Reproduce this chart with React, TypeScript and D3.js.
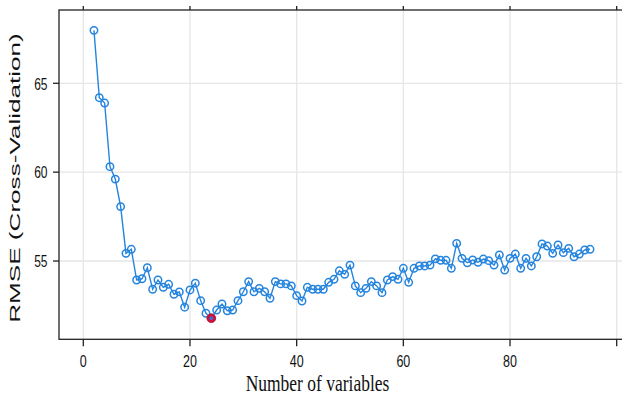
import React from "react";
import * as d3 from "d3";

const variables: number[] = d3.range(2, 96);
const rmse: number[] = [
  67.98, 64.19, 63.89, 60.31, 59.61, 58.06, 55.43, 55.66, 53.93, 54.0,
  54.62, 53.41, 53.93, 53.52, 53.69, 53.13, 53.26, 52.4, 53.37, 53.75,
  52.77, 52.06, 51.78, 52.24, 52.58, 52.2, 52.24, 52.77, 53.27, 53.84,
  53.27, 53.46, 53.27, 52.9, 53.84, 53.71, 53.71, 53.6, 53.05, 52.75,
  53.52, 53.41, 53.41, 53.41, 53.8, 53.97, 54.45, 54.25, 54.77, 53.6,
  53.22, 53.46, 53.84, 53.6, 53.22, 53.93, 54.12, 53.97, 54.59, 53.8,
  54.59, 54.72, 54.72, 54.77, 55.12, 55.04, 55.04, 54.59, 55.99, 55.15,
  54.9, 55.06, 54.93, 55.11, 55.02, 54.77, 55.34, 54.49, 55.15, 55.39,
  54.59, 55.15, 54.72, 55.24, 55.96, 55.84, 55.43, 55.9, 55.47, 55.71,
  55.24, 55.39, 55.62, 55.66,
];
const xTicks: number[] = [0, 20, 40, 60, 80, 100];
const yTicks: number[] = [55, 60, 65];
const xTitle = "Number of variables";
const yTitle = "RMSE (Cross-Validation)";

const W = 622;
const H = 397;
const BLUE = "#2584de";

export default function App() {
  const x = d3.scaleLinear().domain([0, 100]).range([83.3, 616.7]);
  const y = d3.scaleLinear().domain([55, 65]).range([261, 83.3]);
  const left = 59;
  const right = 624;
  const top = 10;
  const bottom = 339.3;

  const pts = variables.map((v, i) => ({ v, r: rmse[i] }));
  const line = d3
    .line<{ v: number; r: number }>()
    .x((d) => x(d.v))
    .y((d) => y(d.r));
  const minIdx = d3.minIndex(rmse);
  const best = pts[minIdx];

  return (
    <svg
      width={W}
      height={H}
      style={{ position: "absolute", left: 0, top: 0, background: "#fff" }}
    >
      {/* grid */}
      {xTicks.map((t) => (
        <line key={"gx" + t} x1={x(t)} x2={x(t)} y1={top} y2={bottom} stroke="#e6e6e6" strokeWidth={1.3} />
      ))}
      {yTicks.map((t) => (
        <line key={"gy" + t} x1={left} x2={right} y1={y(t)} y2={y(t)} stroke="#e6e6e6" strokeWidth={1.3} />
      ))}
      {/* line & points */}
      <path d={line(pts) || ""} fill="none" stroke={BLUE} strokeWidth={1.4} />
      {pts.map((d, i) =>
        i === minIdx ? null : (
          <circle key={i} cx={x(d.v)} cy={y(d.r)} r={3.7} fill="none" stroke={BLUE} strokeWidth={1.5} />
        )
      )}
      <circle cx={x(best.v)} cy={y(best.r)} r={4.4} fill="#d0103a" stroke="#b00d30" strokeWidth={0.8} />
      <circle cx={x(best.v)} cy={y(best.r)} r={1.9} fill="#3a6fd0" />
      {/* frame */}
      <rect x={left} y={top} width={right - left} height={bottom - top} fill="none" stroke="#222" strokeWidth={1.3} />
      {/* x ticks */}
      {xTicks.map((t) => (
        <g key={"tx" + t}>
          <line x1={x(t)} x2={x(t)} y1={bottom} y2={bottom + 7} stroke="#222" strokeWidth={1.3} />
          <line x1={x(t)} x2={x(t)} y1={top} y2={top - 4} stroke="#222" strokeWidth={1.3} />
          {t <= 80 ? (
            <text
              transform={`translate(${x(t)},367.3) scale(1,1.25)`}
              textAnchor="middle"
              fontFamily="Liberation Sans, Arial, sans-serif"
              fontSize={12.5}
              fill="#111"
            >
              {t}
            </text>
          ) : null}
        </g>
      ))}
      {/* y ticks */}
      {yTicks.map((t) => (
        <g key={"ty" + t}>
          <line x1={left - 6} x2={left} y1={y(t)} y2={y(t)} stroke="#222" strokeWidth={1.3} />
          <text
            transform={`translate(47.5,${y(t) + 6.2}) scale(1,1.45)`}
            textAnchor="end"
            fontFamily="Liberation Sans, Arial, sans-serif"
            fontSize={12}
            fill="#111"
          >
            {t}
          </text>
        </g>
      ))}
      {/* titles */}
      <text
        transform={`translate(317.5,391) scale(1,1.3)`}
        textAnchor="middle"
        fontFamily="Liberation Serif, Times New Roman, serif"
        fontSize={17.5}
        fill="#111"
      >
        {xTitle}
      </text>
      <text
        transform={`translate(19.5,178) rotate(-90) scale(1.8,1)`}
        textAnchor="middle"
        fontFamily="Liberation Sans, Arial, sans-serif"
        fontSize={14.5}
        fill="#111"
      >
        {yTitle}
      </text>
    </svg>
  );
}
